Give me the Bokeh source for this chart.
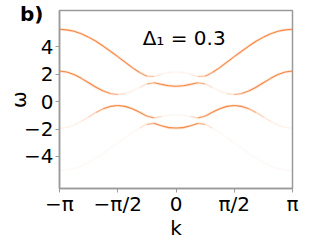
import numpy as np
from bokeh.plotting import figure
from bokeh.models import ColumnDataSource, Label, FixedTicker, Range1d, LinearAxis
from bokeh.embed import file_html
from bokeh.resources import INLINE

# sampling grid in k (from -pi to pi in steps of pi/16)
N = 16
K = [i * np.pi / N for i in range(-N, N + 1)]

# omega values of the four branches
UP_HI = [5.26, 5.22, 5.12, 4.94, 4.69, 4.39, 4.04, 3.66, 3.27, 2.87, 2.47, 2.12, 1.85, 1.83, 1.99, 2.11, 2.15,
         2.11, 1.99, 1.83, 1.85, 2.12, 2.47, 2.87, 3.27, 3.66, 4.04, 4.39, 4.69, 4.94, 5.12, 5.22, 5.26]
UP_LO = [2.22, 2.15, 1.97, 1.69, 1.37, 1.04, 0.77, 0.58, 0.51, 0.58, 0.76, 1.02, 1.29, 1.37, 1.25, 1.15, 1.11,
         1.15, 1.25, 1.37, 1.29, 1.02, 0.76, 0.58, 0.51, 0.58, 0.77, 1.04, 1.37, 1.69, 1.97, 2.15, 2.22]
LO_HI = [-1.95, -1.88, -1.70, -1.44, -1.12, -0.80, -0.53, -0.35, -0.29, -0.35, -0.52, -0.78, -1.06, -1.19, -1.09, -0.99, -0.96,
         -0.99, -1.09, -1.19, -1.06, -0.78, -0.52, -0.35, -0.29, -0.35, -0.53, -0.80, -1.12, -1.44, -1.70, -1.88, -1.95]
LO_LO = [-5.01, -4.98, -4.86, -4.68, -4.43, -4.12, -3.78, -3.40, -3.02, -2.63, -2.26, -1.93, -1.66, -1.59, -1.76, -1.90, -1.93,
         -1.90, -1.76, -1.59, -1.66, -1.93, -2.26, -2.63, -3.02, -3.40, -3.78, -4.12, -4.43, -4.68, -4.86, -4.98, -5.01]

# spectral weight (relative intensity) along each branch
UP_HI_W = [1, 1, 1, 1, 1, 1, 1, 1, 1, 1, 1, 0.9, 0.6, 0.25, 0.1, 0.08, 0.08,
           0.08, 0.1, 0.25, 0.6, 0.9, 1, 1, 1, 1, 1, 1, 1, 1, 1, 1, 1]
UP_LO_W = [1, 1, 1, 1, 1, 1, 1, 0.8, 0.4, 0.12, 0.08, 0.1, 0.3, 0.85, 1, 1, 1,
           1, 1, 0.85, 0.3, 0.1, 0.08, 0.12, 0.4, 0.8, 1, 1, 1, 1, 1, 1, 1]
LO_HI_W = [0.08, 0.08, 0.1, 0.13, 0.2, 0.45, 0.8, 1, 1, 1, 1, 1, 1, 0.45, 0.1, 0.07, 0.07,
           0.07, 0.1, 0.45, 1, 1, 1, 1, 1, 1, 0.8, 0.45, 0.2, 0.13, 0.1, 0.08, 0.08]
LO_LO_W = [0.05, 0.05, 0.05, 0.05, 0.05, 0.05, 0.05, 0.05, 0.05, 0.05, 0.05, 0.08, 0.3, 0.8, 1, 1, 1,
           1, 1, 0.8, 0.3, 0.08, 0.05, 0.05, 0.05, 0.05, 0.05, 0.05, 0.05, 0.05, 0.05, 0.05, 0.05]

X_TICKS = [-np.pi, -np.pi / 2, 0, np.pi / 2, np.pi]
X_TICK_LABELS = ["−π", "−π/2", "0", "π/2", "π"]
Y_TICKS = [-4, -2, 0, 2, 4]
Y_TICK_LABELS = ["−4", "−2", "0", "2", "4"]
PANEL_TAG = "b)"
PANEL_TAG_Y = 6.4

ORANGE = "#f57a2e"

x0, y0, x1, y1, w = [], [], [], [], []
for om, wt in [(UP_HI, UP_HI_W), (UP_LO, UP_LO_W), (LO_HI, LO_HI_W), (LO_LO, LO_LO_W)]:
    for i in range(len(K) - 1):
        x0.append(K[i]); x1.append(K[i + 1])
        y0.append(om[i]); y1.append(om[i + 1])
        w.append(0.5 * (wt[i] + wt[i + 1]))
src = ColumnDataSource(dict(x0=x0, y0=y0, x1=x1, y1=y1, a=[0.9 * v for v in w],
                            ag=[0.18 * v for v in w]))

p = figure(width=302, height=242, output_backend="svg", toolbar_location=None,
           x_range=Range1d(-np.pi, np.pi), y_range=Range1d(-6.33, 6.63),
           min_border_left=59, min_border_right=10, min_border_top=10, min_border_bottom=0)
p.background_fill_color = "white"
p.border_fill_color = "white"
p.outline_line_color = "#9a9a9a"
p.outline_line_width = 1.5
p.xgrid.visible = False
p.ygrid.visible = False

p.segment("x0", "y0", "x1", "y1", source=src, line_color=ORANGE, line_alpha="ag", line_width=2.8)
p.segment("x0", "y0", "x1", "y1", source=src, line_color=ORANGE, line_alpha="a", line_width=1.1)

for ax in (p.xaxis[0], p.yaxis[0]):
    ax.axis_line_color = "#9a9a9a"
    ax.axis_line_width = 1.5
    ax.major_tick_line_color = "#9a9a9a"
    ax.major_tick_out = 4
    ax.major_tick_in = 0
    ax.minor_tick_line_color = None
    ax.major_label_text_font = "DejaVu Sans"
    ax.major_label_text_font_size = "20px"
    ax.major_label_text_color = "black"
    ax.axis_label_text_font = "DejaVu Sans"
    ax.axis_label_text_font_size = "20px"
    ax.axis_label_text_font_style = "normal"
    ax.axis_label_text_color = "black"
    ax.major_label_standoff = 2

p.xaxis.ticker = FixedTicker(ticks=X_TICKS)
p.xaxis.major_label_overrides = dict(zip(X_TICKS, X_TICK_LABELS))
p.xaxis.major_label_standoff = -1
p.xaxis.axis_label = "k"
p.xaxis.axis_label_standoff = -3
p.yaxis.ticker = FixedTicker(ticks=Y_TICKS)
p.yaxis.major_label_overrides = dict(zip(Y_TICKS, Y_TICK_LABELS))

# outer left axis: carries the panel tag "b)" and the axis title
tag_axis = LinearAxis(ticker=FixedTicker(ticks=[PANEL_TAG_Y]),
                      major_label_overrides={PANEL_TAG_Y: PANEL_TAG},
                      axis_line_color=None, major_tick_line_color=None, minor_tick_line_color=None,
                      major_tick_out=0, major_tick_in=0, major_label_standoff=-22,
                      major_label_text_font="DejaVu Sans", major_label_text_font_size="20px",
                      major_label_text_font_style="bold", major_label_text_color="black",
                      axis_label="ω", axis_label_text_font="DejaVu Sans",
                      axis_label_text_font_size="20px", axis_label_text_font_style="normal",
                      axis_label_text_color="black", axis_label_standoff=-14)
p.add_layout(tag_axis, "left")

p.add_layout(Label(x=-0.9, y=4.62, text="Δ₁ = 0.3", text_font="DejaVu Sans",
                   text_font_size="20px", text_baseline="alphabetic", text_color="black"))

open("out.html", "w").write(file_html(p, INLINE))
